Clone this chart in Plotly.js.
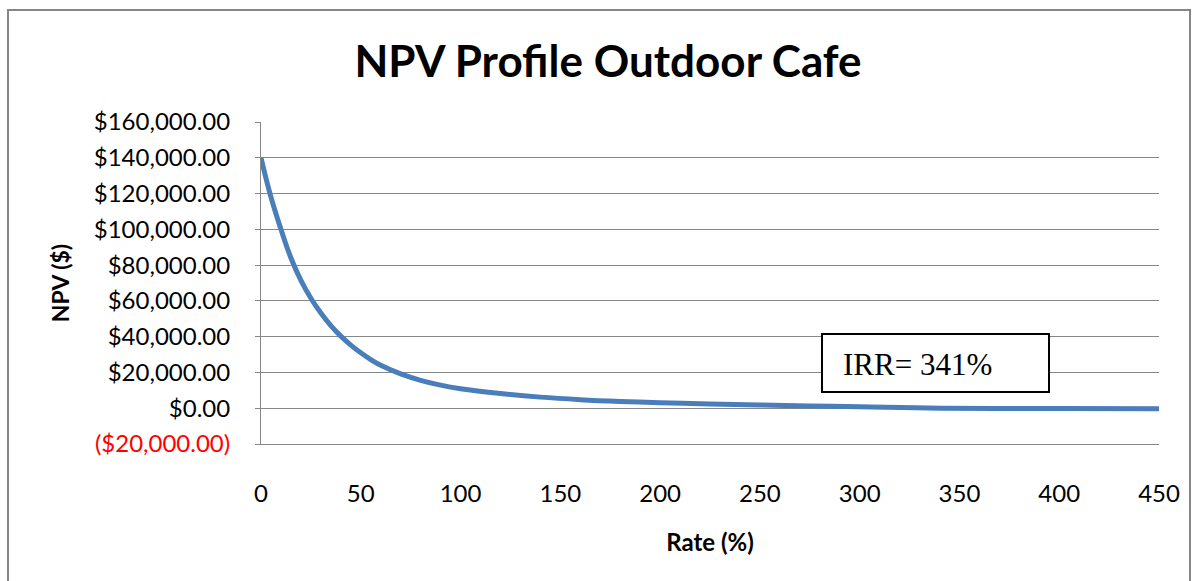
<!DOCTYPE html>
<html>
<head>
<meta charset="utf-8">
<script src="https://cdn.plot.ly/plotly-3.0.1.min.js"></script>
<style>html,body{margin:0;padding:0;background:#fff;}#chart{width:1198px;height:581px;}</style>
</head>
<body>
<div id="chart"></div>
<script>
// Discount rate (%) and NPV ($)
const rates = [0, 5, 10, 15, 20, 25, 30, 35, 40, 45, 50, 55, 60, 70, 80, 90, 100, 120, 140, 160, 180, 200, 225, 250, 275, 300, 341, 400, 450];
const npv = [140000, 118000, 100000, 84000, 71500, 61500, 53200, 46200, 40300, 35300, 31000, 27200, 24000, 19200, 15600, 12900, 10900, 8200, 6200, 4800, 3800, 3100, 2400, 1800, 1300, 800, 0, -150, -250];

const yTickVals = [-20000, 0, 20000, 40000, 60000, 80000, 100000, 120000, 140000, 160000];
const yTickText = ['<span style="color:#ff0000">($20,000.00)</span>', '$0.00', '$20,000.00', '$40,000.00', '$60,000.00', '$80,000.00', '$100,000.00', '$120,000.00', '$140,000.00', '$160,000.00'];
const xTickVals = [0, 50, 100, 150, 200, 250, 300, 350, 400, 450];

const chartTitle = 'NPV Profile Outdoor Cafe';
const xTitle = 'Rate (%)';
const yTitle = 'NPV ($)';
const irrLabel = 'IRR= 341%';

const grid = '#878787';
const font = 'Lato, "Open Sans", sans-serif';

const trace = {
  x: rates, y: npv, type: 'scatter', mode: 'lines',
  line: {color: '#4A7EBB', width: 5, shape: 'spline', smoothing: 1.2},
  hoverinfo: 'x+y', showlegend: false
};

const L = 261, R = 1159, T = 122, B = 444;
const W = R - L, H = B - T;
const px = v => (v - L) / W;
const py = v => (B - v) / H;

const layout = {
  width: 1198, height: 581,
  margin: {l: L, r: 1198 - R, t: T, b: 581 - B},
  paper_bgcolor: '#ffffff', plot_bgcolor: '#ffffff',
  font: {family: font, color: '#000000', size: 24},
  title: {text: '<b>' + chartTitle + '</b>', font: {family: font, size: 44, color: '#000'},
          x: 608 / 1198, xref: 'container', xanchor: 'center', y: 1 - 62 / 581, yref: 'container', yanchor: 'middle'},
  xaxis: {
    range: [0, 450], tickvals: xTickVals, ticktext: xTickVals.map(String),
    showgrid: false, zeroline: false, showline: true, linecolor: grid, linewidth: 1,
    ticks: '', ticklabelstandoff: 28, tickfont: {family: font, size: 24, color: '#000'},
    title: {text: '<b>' + xTitle + '</b>', font: {family: font, size: 24, color: '#000'}, standoff: 28}
  },
  yaxis: {
    range: [-20000, 160000], tickvals: yTickVals, ticktext: yTickText,
    showgrid: true, gridcolor: grid, gridwidth: 1, zeroline: false,
    showline: true, linecolor: grid, linewidth: 1,
    ticks: 'outside', ticklen: 5, tickcolor: grid, ticklabelstandoff: 20,
    tickfont: {family: font, size: 24, color: '#000'},
    title: {text: '<b>' + yTitle + '</b>', font: {family: font, size: 23, color: '#000'}, standoff: 17}
  },
  shapes: [
    {type: 'rect', xref: 'paper', yref: 'paper', x0: px(8), x1: px(1190), y0: py(600), y1: py(10),
     line: {color: '#868686', width: 2}, fillcolor: 'rgba(0,0,0,0)', layer: 'below'},
    {type: 'rect', xref: 'paper', yref: 'paper', x0: px(822), x1: px(1049), y0: py(392), y1: py(334),
     line: {color: '#000000', width: 2}, fillcolor: '#ffffff', layer: 'above'}
  ],
  annotations: [
    {text: irrLabel, xref: 'paper', yref: 'paper', x: px(841), y: py(364), xanchor: 'left', yanchor: 'middle',
     showarrow: false, font: {family: '"Liberation Serif", "Times New Roman", serif', size: 31, color: '#000'}}
  ]
};

Plotly.newPlot('chart', [trace], layout, {displayModeBar: false, staticPlot: true});
</script>
</body>
</html>
